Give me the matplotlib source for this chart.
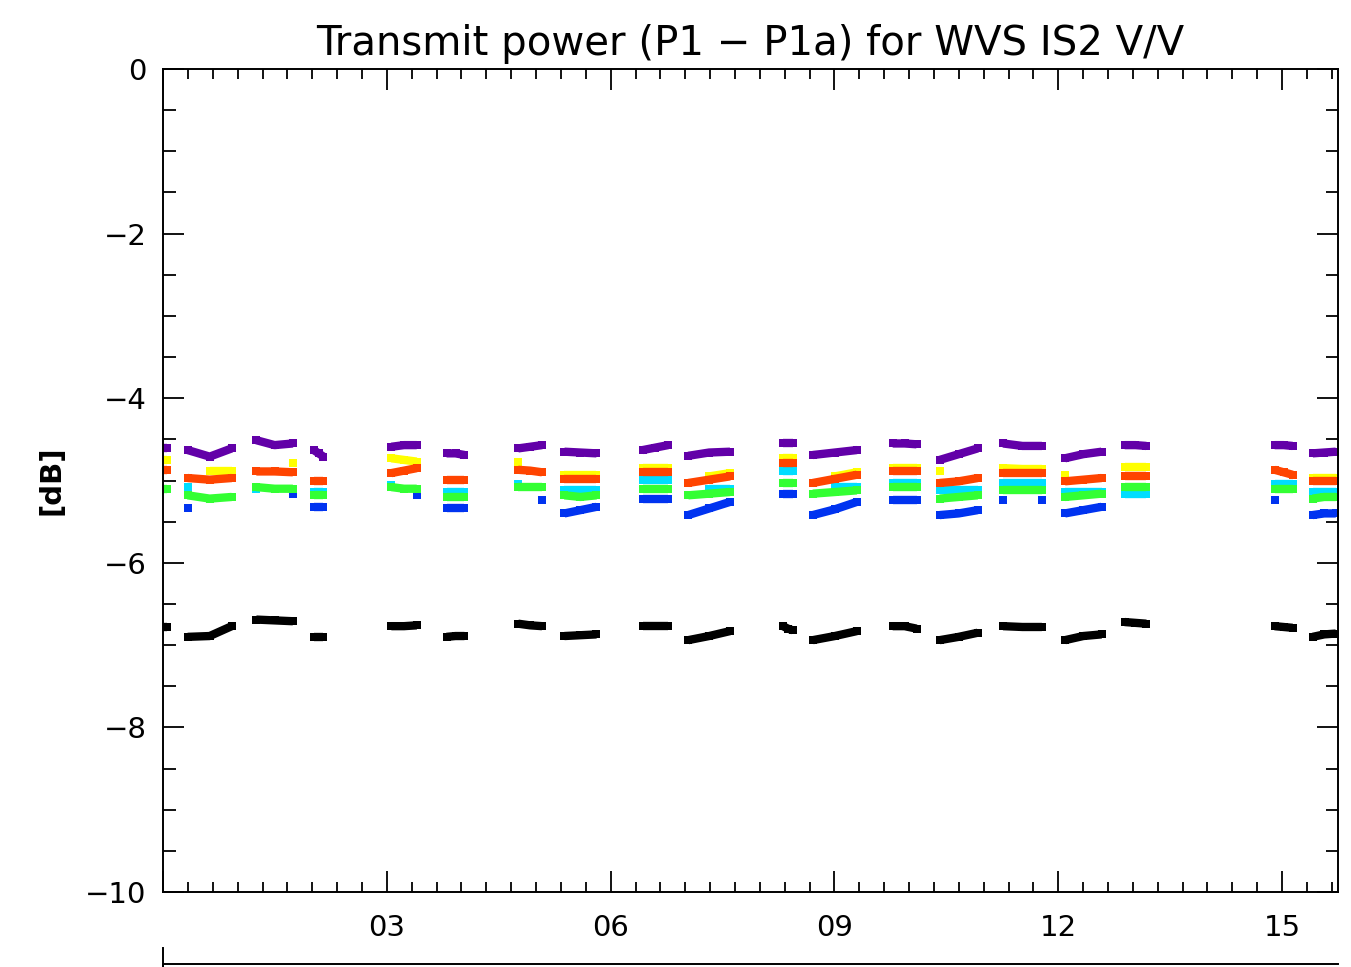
import numpy as np
import matplotlib
matplotlib.use('Agg')
import matplotlib.pyplot as plt
from matplotlib.ticker import MultipleLocator, FuncFormatter
from matplotlib.lines import Line2D

nan = np.nan

# start / end of each data pass (hours of day)
seg_start = [0.0, 0.33, 1.25, 2.02, 3.06, 3.80, 4.76, 5.38, 6.43, 7.04,
             8.31, 8.71, 9.78, 10.41, 11.26, 12.09, 12.89, 14.90, 15.41]
seg_end = [0.05, 0.92, 1.74, 2.15, 3.40, 4.04, 5.08, 5.81, 6.77, 7.60,
           8.44, 9.30, 10.10, 10.92, 11.78, 12.58, 13.18, 15.14, 15.72]

# values at start / middle / end of each pass [dB]
purple = [[-4.61, -4.61, -4.61], [-4.63, -4.71, -4.61], [-4.51, -4.57, -4.55],
          [-4.63, -4.67, -4.71], [-4.59, -4.57, -4.57], [-4.67, -4.67, -4.69],
          [-4.61, -4.59, -4.57], [-4.65, -4.66, -4.67], [-4.63, -4.60, -4.57],
          [-4.70, -4.66, -4.65], [-4.55, -4.55, -4.55], [-4.69, -4.66, -4.63],
          [-4.55, -4.55, -4.56], [-4.75, -4.68, -4.61], [-4.55, -4.58, -4.58],
          [-4.73, -4.68, -4.65], [-4.57, -4.57, -4.58], [-4.57, -4.57, -4.58],
          [-4.67, -4.66, -4.65]]
blue = [[nan, nan, nan], [-5.33, nan, nan], [nan, nan, -5.16],
        [-5.32, -5.32, -5.32], [nan, nan, -5.18], [-5.34, -5.34, -5.34],
        [nan, nan, -5.24], [-5.40, -5.36, -5.32], [-5.23, -5.23, -5.23],
        [-5.42, -5.34, -5.26], [-5.16, -5.16, -5.16], [-5.42, -5.35, -5.26],
        [-5.24, -5.24, -5.24], [-5.42, -5.40, -5.36], [-5.24, nan, -5.24],
        [-5.40, -5.36, -5.32], [nan, nan, -5.12], [-5.24, nan, nan],
        [-5.42, -5.40, -5.40]]
cyan = [[nan, nan, nan], [-5.08, nan, nan], [-5.10, nan, nan],
        [-5.14, -5.14, -5.14], [-5.06, nan, nan], [-5.14, -5.14, -5.14],
        [-5.04, nan, nan], [-5.12, -5.12, -5.12], [-4.99, -4.99, -4.99],
        [nan, -5.10, -5.10], [-4.89, -4.89, -4.89], [nan, -5.08, -5.08],
        [-5.03, -5.03, -5.03], [-5.12, -5.12, -5.12], [-5.03, -5.03, -5.03],
        [-5.14, -5.14, -5.14], [-5.16, -5.16, -5.16], [-5.04, -5.04, -5.04],
        [-5.14, -5.14, -5.14]]
green = [[-5.10, -5.10, -5.10], [-5.18, -5.22, -5.20], [-5.08, -5.10, -5.10],
         [-5.18, -5.18, -5.18], [-5.08, -5.10, -5.10], [-5.20, -5.20, -5.20],
         [-5.08, -5.08, -5.08], [-5.18, -5.20, -5.18], [-5.10, -5.10, -5.10],
         [-5.18, -5.16, -5.14], [-5.03, -5.03, -5.03], [-5.16, -5.14, -5.12],
         [-5.08, -5.08, -5.08], [-5.22, -5.20, -5.18], [-5.12, -5.12, -5.12],
         [-5.20, -5.18, -5.16], [-5.08, -5.08, -5.08], [-5.10, -5.10, -5.10],
         [-5.22, -5.20, -5.20]]
yellow = [[-4.75, -4.75, -4.75], [nan, -4.89, -4.89], [nan, nan, -4.79],
          [nan, nan, nan], [-4.73, -4.75, -4.77], [nan, nan, nan],
          [-4.77, nan, nan], [-4.93, -4.93, -4.93], [-4.85, -4.85, -4.85],
          [nan, -4.95, -4.91], [-4.73, -4.73, -4.73], [nan, -4.95, -4.90],
          [-4.85, -4.85, -4.85], [-4.89, nan, nan], [-4.85, -4.86, -4.86],
          [-4.93, nan, nan], [-4.83, -4.83, -4.83], [nan, nan, nan],
          [-4.97, -4.97, -4.97]]
red = [[-4.87, -4.87, -4.87], [-4.97, -4.99, -4.97], [-4.89, -4.89, -4.90],
       [-5.01, -5.01, -5.01], [-4.91, -4.88, -4.85], [-4.99, -4.99, -4.99],
       [-4.87, -4.88, -4.90], [-4.98, -4.98, -4.98], [-4.90, -4.90, -4.90],
       [-5.03, -4.99, -4.95], [-4.79, -4.79, -4.79], [-5.03, -4.98, -4.93],
       [-4.89, -4.89, -4.89], [-5.03, -5.01, -4.97], [-4.91, -4.91, -4.91],
       [-5.01, -4.99, -4.97], [-4.94, -4.94, -4.94], [-4.87, -4.90, -4.93],
       [-5.01, -5.01, -5.01]]
black = [[-6.78, -6.78, -6.78], [-6.90, -6.89, -6.77], [-6.69, -6.70, -6.71],
         [-6.90, -6.90, -6.90], [-6.77, -6.77, -6.76], [-6.90, -6.89, -6.89],
         [-6.74, -6.76, -6.77], [-6.89, -6.88, -6.87], [-6.77, -6.77, -6.77],
         [-6.94, -6.89, -6.83], [-6.77, -6.80, -6.82], [-6.94, -6.89, -6.83],
         [-6.77, -6.77, -6.80], [-6.94, -6.90, -6.85], [-6.77, -6.78, -6.78],
         [-6.94, -6.89, -6.87], [-6.72, -6.73, -6.74], [-6.77, -6.78, -6.79],
         [-6.90, -6.87, -6.86]]

channels = [(purple, '#6200a8'), (blue, '#0033f0'), (cyan, '#00ddff'),
            (green, '#33ff33'), (yellow, '#ffff00'), (red, '#ff4400'),
            (black, '#000000')]

fig = plt.figure(figsize=(13.51, 9.67), dpi=100)
ax = fig.add_axes([0.1207, 0.0776, 0.8697, 0.851])

for values, col in channels:
    for s, e, v in zip(seg_start, seg_end, values):
        xs = [s, (s + e) / 2, e]
        ax.plot(xs, v, color=col, lw=6, marker='s', ms=6, mew=0,
                solid_capstyle='butt')

ax.set_xlim(0, 15.75)
ax.set_ylim(-10, 0)
ax.xaxis.set_major_locator(MultipleLocator(3))
ax.xaxis.set_minor_locator(MultipleLocator(1 / 3))
ax.yaxis.set_major_locator(MultipleLocator(2))
ax.yaxis.set_minor_locator(MultipleLocator(0.5))
ax.xaxis.set_major_formatter(FuncFormatter(lambda v, p: '' if v == 0 else '%02d' % v))
ax.yaxis.set_major_formatter(FuncFormatter(lambda v, p: '%d' % v if v == 0 else '\u2212%d' % -v))
ax.tick_params(which='both', direction='in', top=True, right=True,
               labelsize=21, width=1.3, pad=12)
ax.tick_params(axis='x', pad=16)
ax.tick_params(which='major', length=15)
ax.tick_params(axis='x', which='minor', length=7)
ax.tick_params(axis='y', which='minor', length=9)
for sp in ax.spines.values():
    sp.set_linewidth(1.4)

ax.set_title('Transmit power (P1 \u2212 P1a) for WVS IS2 V/V', fontsize=29, pad=10)
ax.set_ylabel('[dB]', fontsize=21, fontweight='bold', labelpad=14)

# top of the next panel, cut off by the page edge
ax2 = fig.add_axes([0.1207, -0.5, 0.8697, 0.5031])
ax2.set_xticks([])
ax2.set_yticks([])
ax2.spines['right'].set_visible(False)
ax2.spines['bottom'].set_visible(False)
for sp in ax2.spines.values():
    sp.set_linewidth(1.4)
fig.add_artist(Line2D([0.1207, 0.1207], [0.0, 0.02], color='black', lw=1.4))

fig.savefig('out.png', dpi=100)
